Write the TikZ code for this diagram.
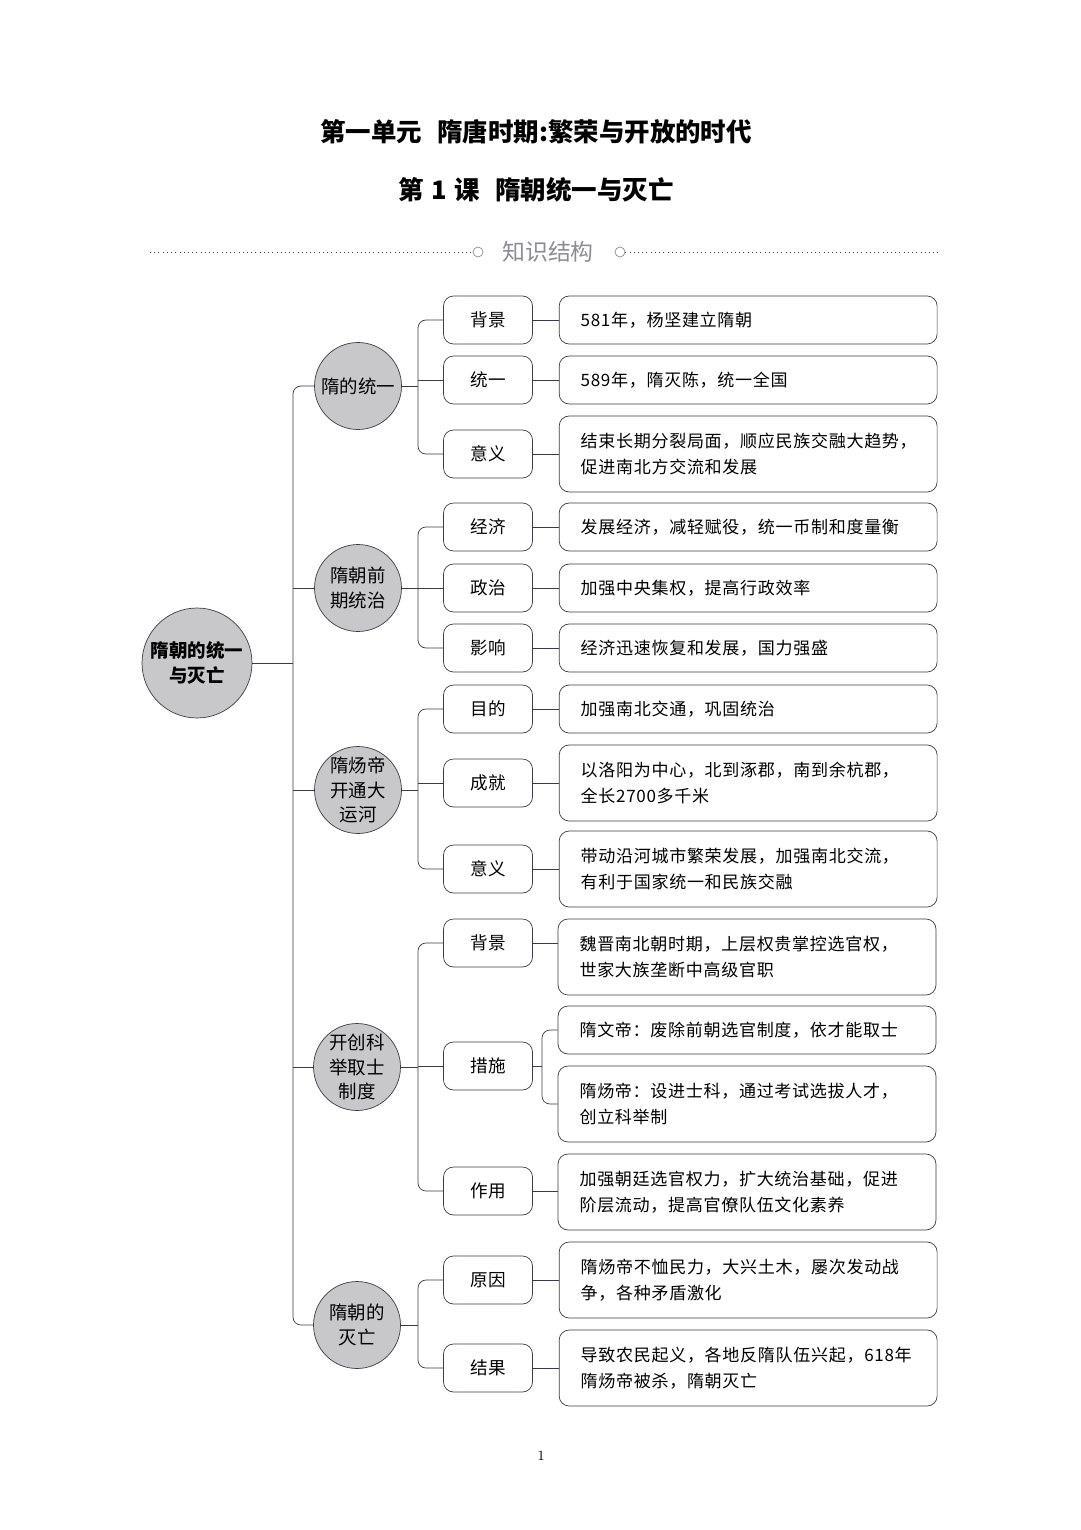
\documentclass[tikz,border=0pt]{standalone}
\usepackage{fontspec}
\usepackage{tikz}
\usetikzlibrary{positioning, calc}
\newfontfamily\cjk{Noto Sans CJK SC}
\newfontfamily\cjkwide[LetterSpace=4]{Noto Sans CJK SC}
\definecolor{inkgray}{RGB}{60,60,72}
\definecolor{discgray}{RGB}{200,200,202}
\definecolor{headgray}{RGB}{140,140,150}

\begin{document}
\begin{tikzpicture}[x=0.02cm, y=-0.02cm,
        rootdisc/.style={circle, draw=inkgray, fill=discgray, thin, minimum size=2.2cm, inner sep=0pt,
                         align=center, font=\cjk\fontsize{10.5pt}{14.2pt}\bfseries\selectfont},
        topic/.style={circle, draw=inkgray, fill=discgray, thin, minimum size=1.74cm, inner sep=0pt,
                      align=center, font=\cjk\fontsize{10.5pt}{14.2pt}\selectfont},
        keybox/.style={rectangle, draw=inkgray, thin, rounded corners=0.2cm, minimum width=1.78cm,
                       minimum height=0.96cm, font=\cjk\fontsize{10pt}{12pt}\selectfont},
        notebox/.style={rectangle, draw=inkgray, thin, rounded corners=0.2cm, text width=6.7cm, inner xsep=0.43cm,
                        minimum height=0.96cm, align=left, font=\cjkwide\fontsize{9.7pt}{14.8pt}\selectfont},
        tall/.style={minimum height=1.52cm},
        link/.style={draw=inkgray, thin, rounded corners=0.16cm}
    ]
        \fill [white] (0,0) rectangle (1080,1530);
        \useasboundingbox (0,0) rectangle (1080,1530);

        % titles
        \node [font=\cjk\fontsize{14.5pt}{16pt}\bfseries\selectfont] (unit) at (536,132) {第一单元\hspace{0.6em}隋唐时期:繁荣与开放的时代};
        \node [font=\cjk\fontsize{14.5pt}{16pt}\bfseries\selectfont] (lesson) at (536,190) {第\hspace{0.3em}1\hspace{0.3em}课\hspace{0.6em}隋朝统一与灭亡};

        % knowledge structure rule
        \node [font=\cjk\fontsize{13pt}{15pt}\selectfont, text=headgray] (struct) at (548,252) {知识结构};
        \node [circle, draw=headgray, inner sep=0pt, minimum size=0.2cm] (ringl) at (478,252) {};
        \node [circle, draw=headgray, inner sep=0pt, minimum size=0.2cm] (ringr) at (620,252) {};
        \coordinate (rulel) at (150,252);
        \coordinate (ruler) at (938,252);
        \draw [inkgray, dotted] (rulel) -- (ringl);
        \draw [inkgray, dotted] (ringr) -- (ruler);

        % root and topics
        \node [rootdisc] (root) at (197,663) {隋朝的统一\\与灭亡};
        \node [topic] (unify) at (358,386) {隋的统一};
        \node [topic] (rule) at (358,588) {隋朝前\\期统治};
        \node [topic] (canal) at (358,790) {隋炀帝\\开通大\\运河};
        \node [topic] (exam) at (357,1067) {开创科\\举取士\\制度};
        \node [topic] (fall) at (357,1325) {隋朝的\\灭亡};

        \coordinate (trunk) at (293,663);
        \path [link] (root.east) -- (trunk);
        \path [link] (unify.west) -- (unify.west -| trunk) -- (fall.west -| trunk) -- (fall.west);
        \foreach \t in {rule, canal, exam}
            \path [link] (\t.west) -- (\t.west -| trunk);

        % group 1
        \node [keybox] (bg1) at (488,320) {背景};
        \node [keybox] (ty1) at (488,380) {统一};
        \node [keybox] (yy1) at (488,454) {意义};
        \node [notebox, right=0.52cm of bg1] (bg1txt) {581年，杨坚建立隋朝};
        \node [notebox, right=0.52cm of ty1] (ty1txt) {589年，隋灭陈，统一全国};
        \node [notebox, tall, right=0.52cm of yy1] (yy1txt) {结束长期分裂局面，顺应民族交融大趋势，\\促进南北方交流和发展};
        \coordinate (fork1) at (418,386);
        \path [link] (unify.east) -- (fork1);
        \path [link] (bg1.west) -- (bg1.west -| fork1) -- (yy1.west -| fork1) -- (yy1.west);
        \path [link] (ty1.west) -- (ty1.west -| fork1);

        % group 2
        \node [keybox] (jj2) at (488,527) {经济};
        \node [keybox] (zz2) at (488,588) {政治};
        \node [keybox] (yx2) at (488,648) {影响};
        \node [notebox, right=0.52cm of jj2] (jj2txt) {发展经济，减轻赋役，统一币制和度量衡};
        \node [notebox, right=0.52cm of zz2] (zz2txt) {加强中央集权，提高行政效率};
        \node [notebox, right=0.52cm of yx2] (yx2txt) {经济迅速恢复和发展，国力强盛};
        \coordinate (fork2) at (418,588);
        \path [link] (rule.east) -- (fork2);
        \path [link] (jj2.west) -- (jj2.west -| fork2) -- (yx2.west -| fork2) -- (yx2.west);
        \path [link] (zz2.west) -- (zz2.west -| fork2);

        % group 3
        \node [keybox] (md3) at (488,709) {目的};
        \node [keybox] (cj3) at (488,783) {成就};
        \node [keybox] (yy3) at (488,869) {意义};
        \node [notebox, right=0.52cm of md3] (md3txt) {加强南北交通，巩固统治};
        \node [notebox, tall, right=0.52cm of cj3] (cj3txt) {以洛阳为中心，北到涿郡，南到余杭郡，\\全长2700多千米};
        \node [notebox, tall, right=0.52cm of yy3] (yy3txt) {带动沿河城市繁荣发展，加强南北交流，\\有利于国家统一和民族交融};
        \coordinate (fork3) at (418,790);
        \path [link] (canal.east) -- (fork3);
        \path [link] (md3.west) -- (md3.west -| fork3) -- (yy3.west -| fork3) -- (yy3.west);
        \path [link] (cj3.west) -- (cj3.west -| fork3);

        % group 4
        \node [keybox] (bg4) at (488,943) {背景};
        \node [keybox] (cs4) at (488,1066) {措施};
        \node [keybox] (zy4) at (488,1191) {作用};
        \node [notebox, tall] (bg4txt) at (747,957) {魏晋南北朝时期，上层权贵掌控选官权，\\世家大族垄断中高级官职};
        \node [notebox] (wd4txt) at (747,1030) {隋文帝：废除前朝选官制度，依才能取士};
        \node [notebox, tall] (yd4txt) at (747,1104) {隋炀帝：设进士科，通过考试选拔人才，\\创立科举制};
        \node [notebox, tall] (zy4txt) at (747,1192) {加强朝廷选官权力，扩大统治基础，促进\\阶层流动，提高官僚队伍文化素养};
        \coordinate (fork4) at (418,1067);
        \coordinate (fork4b) at (542,1066);
        \path [link] (exam.east) -- (fork4);
        \path [link] (bg4.west) -- (bg4.west -| fork4) -- (zy4.west -| fork4) -- (zy4.west);
        \path [link] (cs4.west) -- (cs4.west -| fork4);
        \path [link] (cs4.east) -- (fork4b);
        \path [link] (wd4txt.west) -- (wd4txt.west -| fork4b) -- (yd4txt.west -| fork4b) -- (yd4txt.west);

        % group 5
        \node [keybox] (yy5) at (488,1280) {原因};
        \node [keybox] (jg5) at (488,1368) {结果};
        \node [notebox, tall, right=0.52cm of yy5] (yy5txt) {隋炀帝不恤民力，大兴土木，屡次发动战\\争，各种矛盾激化};
        \node [notebox, tall, right=0.52cm of jg5] (jg5txt) {导致农民起义，各地反隋队伍兴起，618年\\隋炀帝被杀，隋朝灭亡};
        \coordinate (fork5) at (418,1325);
        \path [link] (fall.east) -- (fork5);
        \path [link] (yy5.west) -- (yy5.west -| fork5) -- (jg5.west -| fork5) -- (jg5.west);

        % key to note links
        \foreach \k/\n in {bg1/bg1txt, ty1/ty1txt, yy1/yy1txt, jj2/jj2txt, zz2/zz2txt, yx2/yx2txt,
                           md3/md3txt, cj3/cj3txt, yy3/yy3txt, bg4/bg4txt, zy4/zy4txt, yy5/yy5txt, jg5/jg5txt}
            \path [link] (\k.east) -- (\k.east -| \n.west);

        \node [font=\fontsize{8pt}{10pt}\selectfont] (pageno) at (541,1456) {1};
    \end{tikzpicture}
\end{document}
